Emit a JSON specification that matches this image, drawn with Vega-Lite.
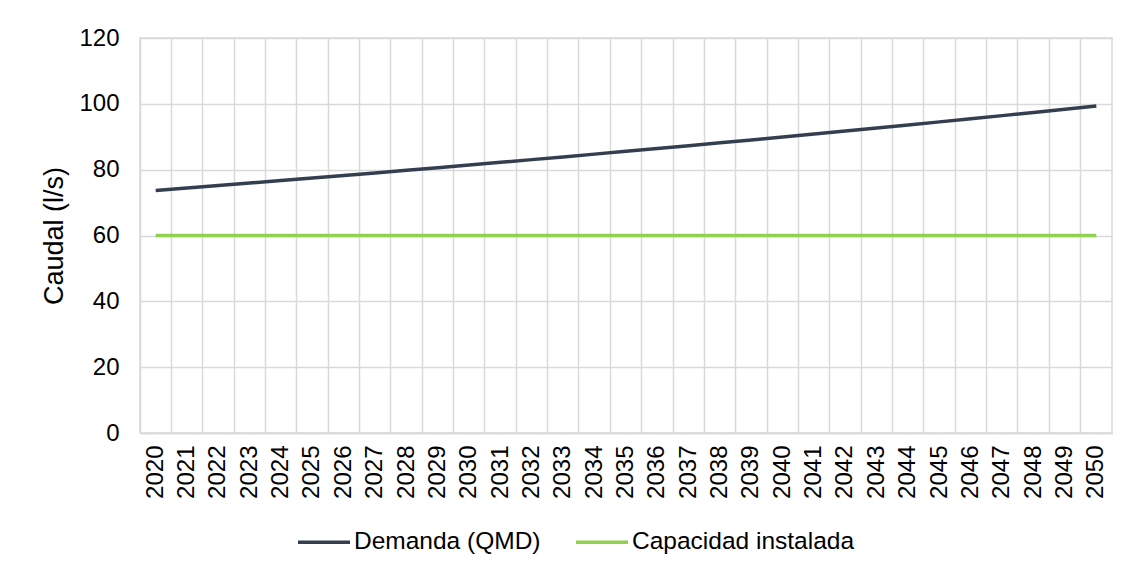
{
  "$schema": "https://vega.github.io/schema/vega-lite/v6.json",
  "width": 972,
  "height": 395,
  "autosize": {"type": "none"},
  "padding": {"left": 140, "top": 38, "right": 22, "bottom": 137},
  "background": "#ffffff",
  "config": {
    "font": "Liberation Sans",
    "view": {"stroke": "#d9d9d9", "strokeWidth": 1.5},
    "axis": {"labelFont": "Liberation Sans", "titleFont": "Liberation Sans", "labelColor": "#000000", "titleColor": "#000000"}
  },
  "data": {
    "values": [
      {"year": "2020", "serie": "Demanda (QMD)", "caudal": 73.70},
      {"year": "2021", "serie": "Demanda (QMD)", "caudal": 74.44},
      {"year": "2022", "serie": "Demanda (QMD)", "caudal": 75.18},
      {"year": "2023", "serie": "Demanda (QMD)", "caudal": 75.93},
      {"year": "2024", "serie": "Demanda (QMD)", "caudal": 76.69},
      {"year": "2025", "serie": "Demanda (QMD)", "caudal": 77.46},
      {"year": "2026", "serie": "Demanda (QMD)", "caudal": 78.23},
      {"year": "2027", "serie": "Demanda (QMD)", "caudal": 79.02},
      {"year": "2028", "serie": "Demanda (QMD)", "caudal": 79.81},
      {"year": "2029", "serie": "Demanda (QMD)", "caudal": 80.61},
      {"year": "2030", "serie": "Demanda (QMD)", "caudal": 81.41},
      {"year": "2031", "serie": "Demanda (QMD)", "caudal": 82.23},
      {"year": "2032", "serie": "Demanda (QMD)", "caudal": 83.05},
      {"year": "2033", "serie": "Demanda (QMD)", "caudal": 83.88},
      {"year": "2034", "serie": "Demanda (QMD)", "caudal": 84.72},
      {"year": "2035", "serie": "Demanda (QMD)", "caudal": 85.56},
      {"year": "2036", "serie": "Demanda (QMD)", "caudal": 86.42},
      {"year": "2037", "serie": "Demanda (QMD)", "caudal": 87.28},
      {"year": "2038", "serie": "Demanda (QMD)", "caudal": 88.16},
      {"year": "2039", "serie": "Demanda (QMD)", "caudal": 89.04},
      {"year": "2040", "serie": "Demanda (QMD)", "caudal": 89.93},
      {"year": "2041", "serie": "Demanda (QMD)", "caudal": 90.83},
      {"year": "2042", "serie": "Demanda (QMD)", "caudal": 91.74},
      {"year": "2043", "serie": "Demanda (QMD)", "caudal": 92.65},
      {"year": "2044", "serie": "Demanda (QMD)", "caudal": 93.58},
      {"year": "2045", "serie": "Demanda (QMD)", "caudal": 94.52},
      {"year": "2046", "serie": "Demanda (QMD)", "caudal": 95.46},
      {"year": "2047", "serie": "Demanda (QMD)", "caudal": 96.42},
      {"year": "2048", "serie": "Demanda (QMD)", "caudal": 97.38},
      {"year": "2049", "serie": "Demanda (QMD)", "caudal": 98.35},
      {"year": "2050", "serie": "Demanda (QMD)", "caudal": 99.34},
      {"year": "2020", "serie": "Capacidad instalada", "caudal": 60},
      {"year": "2021", "serie": "Capacidad instalada", "caudal": 60},
      {"year": "2022", "serie": "Capacidad instalada", "caudal": 60},
      {"year": "2023", "serie": "Capacidad instalada", "caudal": 60},
      {"year": "2024", "serie": "Capacidad instalada", "caudal": 60},
      {"year": "2025", "serie": "Capacidad instalada", "caudal": 60},
      {"year": "2026", "serie": "Capacidad instalada", "caudal": 60},
      {"year": "2027", "serie": "Capacidad instalada", "caudal": 60},
      {"year": "2028", "serie": "Capacidad instalada", "caudal": 60},
      {"year": "2029", "serie": "Capacidad instalada", "caudal": 60},
      {"year": "2030", "serie": "Capacidad instalada", "caudal": 60},
      {"year": "2031", "serie": "Capacidad instalada", "caudal": 60},
      {"year": "2032", "serie": "Capacidad instalada", "caudal": 60},
      {"year": "2033", "serie": "Capacidad instalada", "caudal": 60},
      {"year": "2034", "serie": "Capacidad instalada", "caudal": 60},
      {"year": "2035", "serie": "Capacidad instalada", "caudal": 60},
      {"year": "2036", "serie": "Capacidad instalada", "caudal": 60},
      {"year": "2037", "serie": "Capacidad instalada", "caudal": 60},
      {"year": "2038", "serie": "Capacidad instalada", "caudal": 60},
      {"year": "2039", "serie": "Capacidad instalada", "caudal": 60},
      {"year": "2040", "serie": "Capacidad instalada", "caudal": 60},
      {"year": "2041", "serie": "Capacidad instalada", "caudal": 60},
      {"year": "2042", "serie": "Capacidad instalada", "caudal": 60},
      {"year": "2043", "serie": "Capacidad instalada", "caudal": 60},
      {"year": "2044", "serie": "Capacidad instalada", "caudal": 60},
      {"year": "2045", "serie": "Capacidad instalada", "caudal": 60},
      {"year": "2046", "serie": "Capacidad instalada", "caudal": 60},
      {"year": "2047", "serie": "Capacidad instalada", "caudal": 60},
      {"year": "2048", "serie": "Capacidad instalada", "caudal": 60},
      {"year": "2049", "serie": "Capacidad instalada", "caudal": 60},
      {"year": "2050", "serie": "Capacidad instalada", "caudal": 60}
    ]
  },
  "mark": {"type": "line", "strokeWidth": 3.5, "strokeCap": "butt"},
  "encoding": {
    "x": {
      "field": "year",
      "type": "ordinal",
      "scale": {"type": "band", "paddingInner": 0, "paddingOuter": 0},
      "axis": {
        "title": null,
        "bandPosition": 0,
        "labelOffset": 0,
        "labelAngle": -90,
        "labelAlign": "right",
        "labelBaseline": "middle",
        "labelFontSize": 24,
        "labelPadding": 12,
        "ticks": false,
        "domainColor": "#d9d9d9",
        "domainWidth": 1.5,
        "grid": true,
        "gridColor": "#d9d9d9",
        "gridWidth": 1.5,
        "labelOverlap": false
      }
    },
    "y": {
      "field": "caudal",
      "type": "quantitative",
      "scale": {"domain": [0, 120], "nice": false},
      "axis": {
        "title": "Caudal (l/s)",
        "titleFontSize": 27,
        "titleFontWeight": "normal",
        "titlePadding": 10,
        "values": [0, 20, 40, 60, 80, 100, 120],
        "labelFontSize": 24,
        "labelPadding": 21,
        "ticks": false,
        "domain": false,
        "grid": true,
        "gridColor": "#d9d9d9",
        "gridWidth": 1.5
      }
    },
    "color": {
      "field": "serie",
      "type": "nominal",
      "sort": ["Demanda (QMD)", "Capacidad instalada"],
      "scale": {"domain": ["Demanda (QMD)", "Capacidad instalada"], "range": ["#333f50", "#92d050"]},
      "legend": {
        "title": null,
        "orient": "none",
        "direction": "horizontal",
        "legendX": 156,
        "legendY": 476,
        "symbolType": "stroke",
        "symbolSize": 2704,
        "symbolStrokeWidth": 3.5,
        "labelFontSize": 24.5,
        "labelColor": "#000000",
        "labelOffset": 2,
        "columnPadding": 28,
        "labelLimit": 400
      }
    }
  }
}
